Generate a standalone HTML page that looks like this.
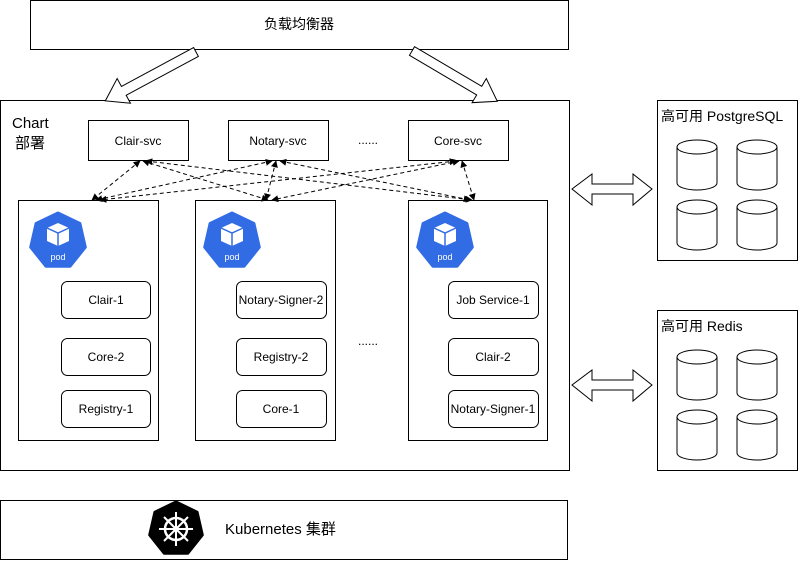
<!DOCTYPE html>
<html><head><meta charset="utf-8"><style>
html,body{margin:0;padding:0;background:#fff;}
svg{display:block;font-family:"Liberation Sans","Noto Sans CJK SC",sans-serif;}
</style></head><body>
<svg width="799" height="561" viewBox="0 0 799 561" xmlns="http://www.w3.org/2000/svg">
<defs>
<marker id="ah" viewBox="0 0 10 10" refX="9" refY="5" markerWidth="7" markerHeight="7" orient="auto-start-reverse" markerUnits="userSpaceOnUse">
<path d="M0,0 L10,5 L0,10 z" fill="#000"/>
</marker>
<g id="pod">
<polygon points="0,-28 21.9,-17.5 27.3,6.2 12.1,25.2 -12.1,25.2 -27.3,6.2 -21.9,-17.5" fill="#326CE5" stroke="#326CE5" stroke-width="3" stroke-linejoin="round"/>
<polygon points="0,-18 11,-13 11,0 0,5 -11,0 -11,-13" fill="#fff"/>
<polyline points="-11,-13 0,-8 11,-13" fill="none" stroke="#326CE5" stroke-width="1.5"/>
<line x1="0" y1="-8" x2="0" y2="5" stroke="#326CE5" stroke-width="1.5"/>
<text x="0" y="19" font-size="9" fill="#fff" text-anchor="middle">pod</text>
</g>
<g id="cyl">
<path d="M0,7 A20,7 0 0 1 40,7 L40,43 A20,7 0 0 1 0,43 Z" fill="#fff" stroke="#000" stroke-width="1"/>
<path d="M0,7 A20,7 0 0 0 40,7" fill="none" stroke="#000" stroke-width="1"/>
</g>
</defs>

<!-- load balancer -->
<rect x="30.5" y="0.5" width="538" height="49" fill="#fff" stroke="#000"/>
<text x="299" y="29" font-size="14" text-anchor="middle">负载均衡器</text>

<!-- chart box -->
<rect x="0.5" y="100.5" width="569" height="370" fill="#fff" stroke="#000"/>
<text x="12" y="128" font-size="15">Chart</text>
<text x="15" y="148" font-size="15">部署</text>

<!-- hollow arrows -->
<g transform="translate(196,52) rotate(151.7)">
<polygon points="0,-5 82,-5 82,-14 103,0 82,14 82,5 0,5" fill="#fff" stroke="#000"/>
</g>
<g transform="translate(412,51) rotate(30.5)">
<polygon points="0,-5 78,-5 78,-14 99,0 78,14 78,5 0,5" fill="#fff" stroke="#000"/>
</g>

<!-- svc boxes -->
<rect x="88.5" y="120.5" width="100" height="40" fill="#fff" stroke="#000"/>
<text x="138" y="145" font-size="12" text-anchor="middle">Clair-svc</text>
<rect x="228.5" y="120.5" width="100" height="40" fill="#fff" stroke="#000"/>
<text x="278" y="145" font-size="12" text-anchor="middle">Notary-svc</text>
<rect x="408.5" y="120.5" width="100" height="40" fill="#fff" stroke="#000"/>
<text x="458" y="145" font-size="12" text-anchor="middle">Core-svc</text>
<text x="368" y="144" font-size="12" text-anchor="middle">......</text>

<!-- pod boxes -->
<rect x="18.5" y="200.5" width="140" height="240" fill="#fff" stroke="#000"/>
<rect x="195.5" y="200.5" width="140" height="240" fill="#fff" stroke="#000"/>
<rect x="408.5" y="200.5" width="139" height="240" fill="#fff" stroke="#000"/>
<text x="368" y="345" font-size="12" text-anchor="middle">......</text>

<use href="#pod" x="58" y="241"/>
<use href="#pod" x="232" y="241"/>
<use href="#pod" x="445" y="241"/>

<!-- inner boxes -->
<g font-size="12" text-anchor="middle" fill="#fff" stroke="#000">
<rect x="61.5" y="281.5" width="89" height="37" rx="6"/>
<rect x="61.5" y="338.5" width="89" height="37" rx="6"/>
<rect x="61.5" y="390.5" width="89" height="37" rx="6"/>
<rect x="236.5" y="281.5" width="90" height="37" rx="6"/>
<rect x="236.5" y="338.5" width="90" height="37" rx="6"/>
<rect x="236.5" y="390.5" width="90" height="37" rx="6"/>
<rect x="448.5" y="281.5" width="90" height="37" rx="6"/>
<rect x="448.5" y="338.5" width="90" height="37" rx="6"/>
<rect x="448.5" y="390.5" width="90" height="37" rx="6"/>
</g>
<g font-size="12" text-anchor="middle" fill="#000">
<text x="106" y="304">Clair-1</text>
<text x="106" y="361">Core-2</text>
<text x="106" y="413">Registry-1</text>
<text x="281" y="304">Notary-Signer-2</text>
<text x="281" y="361">Registry-2</text>
<text x="281" y="413">Core-1</text>
<text x="493" y="304">Job Service-1</text>
<text x="493" y="361">Clair-2</text>
<text x="493" y="413">Notary-Signer-1</text>
</g>

<!-- dashed connectors -->
<g stroke="#000" stroke-dasharray="4,3" fill="none" marker-start="url(#ah)" marker-end="url(#ah)">
<line x1="140" y1="161" x2="92" y2="200"/>
<line x1="143" y1="161" x2="268" y2="200"/>
<line x1="146" y1="161" x2="472" y2="200"/>
<line x1="272" y1="161" x2="96" y2="200"/>
<line x1="276" y1="161" x2="266" y2="200"/>
<line x1="280" y1="161" x2="470" y2="200"/>
<line x1="456" y1="161" x2="100" y2="200"/>
<line x1="459" y1="161" x2="272" y2="200"/>
<line x1="462" y1="161" x2="474" y2="200"/>
</g>

<!-- double arrows -->
<polygon points="572,189 592,174 592,184 633,184 633,174 652,189 633,205 633,194 592,194 592,205" fill="#fff" stroke="#000"/>
<polygon points="572,385 592,370 592,380 633,380 633,370 652,385 633,401 633,390 592,390 592,401" fill="#fff" stroke="#000"/>

<!-- PostgreSQL -->
<rect x="657.5" y="100.5" width="140" height="160" fill="#fff" stroke="#000"/>
<text x="661" y="121" font-size="14">高可用 PostgreSQL</text>
<use href="#cyl" x="677" y="140"/>
<use href="#cyl" x="737" y="140"/>
<use href="#cyl" x="677" y="200"/>
<use href="#cyl" x="737" y="200"/>

<!-- Redis -->
<rect x="657.5" y="310.5" width="140" height="160" fill="#fff" stroke="#000"/>
<text x="661" y="331" font-size="14">高可用 Redis</text>
<use href="#cyl" x="677" y="350"/>
<use href="#cyl" x="737" y="350"/>
<use href="#cyl" x="677" y="410"/>
<use href="#cyl" x="737" y="410"/>

<!-- Kubernetes -->
<rect x="0.5" y="500.5" width="567" height="59" fill="#fff" stroke="#000"/>
<g transform="translate(176,529)">
<polygon points="0,-27 21.1,-16.8 26.3,6 11.7,24.3 -11.7,24.3 -26.3,6 -21.1,-16.8" fill="#000" stroke="#000" stroke-width="3" stroke-linejoin="round"/>
<circle cx="0" cy="0" r="11" fill="none" stroke="#fff" stroke-width="2.5"/>
<circle cx="0" cy="0" r="3" fill="#fff"/>
<g stroke="#fff" stroke-width="2">
<line x1="0" y1="-17" x2="0" y2="17"/>
<line x1="-17" y1="0" x2="17" y2="0"/>
<line x1="-12" y1="-12" x2="12" y2="12"/>
<line x1="-12" y1="12" x2="12" y2="-12"/>
</g>
</g>
<text x="225" y="534" font-size="15">Kubernetes 集群</text>
</svg>
</body></html>
